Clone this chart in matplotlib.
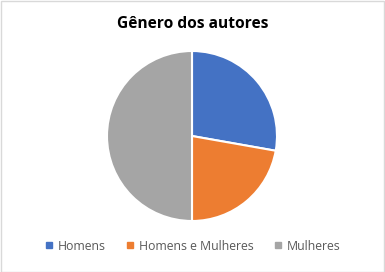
import matplotlib
matplotlib.use("Agg")
import matplotlib.pyplot as plt
from matplotlib.patches import Rectangle
from matplotlib.lines import Line2D

categories = ["Homens", "Homens e Mulheres", "Mulheres"]
values = [5, 4, 9]
colors = ["#4472C4", "#ED7D31", "#A5A5A5"]
title = "Gênero dos autores"

plt.rcParams["font.family"] = ["Open Sans", "DejaVu Sans"]

fig = plt.figure(figsize=(3.85, 2.72), dpi=100)
fig.patch.set_facecolor("white")

# outer chart border
fig.add_artist(Rectangle((0.5 / 385, 0.5 / 272), 1 - 1.5 / 385, 1 - 1.5 / 272,
                         transform=fig.transFigure, fill=False,
                         edgecolor="#D9D9D9", linewidth=1.0))

# pie area: center ~ (192,136) px, radius ~85 px
r = 85
cx, cy = 192, 136
ax = fig.add_axes([(cx - r) / 385, 1 - (cy + r) / 272, 2 * r / 385, 2 * r / 272])
ax.pie(values, colors=colors, startangle=90, counterclock=False,
       wedgeprops=dict(edgecolor="white", linewidth=1.5), radius=1.0)
ax.set_xlim(-1, 1)
ax.set_ylim(-1, 1)
ax.set_aspect("auto")
ax.axis("off")

fig.text(0.5, 1 - 24 / 272, title, ha="center", va="center",
         fontsize=11.2, fontweight="bold", color="black")

handles = [Line2D([0], [0], marker="s", linestyle="none", markersize=5,
                  markerfacecolor=c, markeredgecolor=c) for c in colors]
fig.legend(handles, categories, loc="center", bbox_to_anchor=(0.5, 1 - 246 / 272),
           ncol=3, frameon=False, fontsize=8.8, labelcolor="#595959",
           handlelength=0.8, handletextpad=0.3, columnspacing=1.6)

fig.savefig("out.png", dpi=100, facecolor="white")
